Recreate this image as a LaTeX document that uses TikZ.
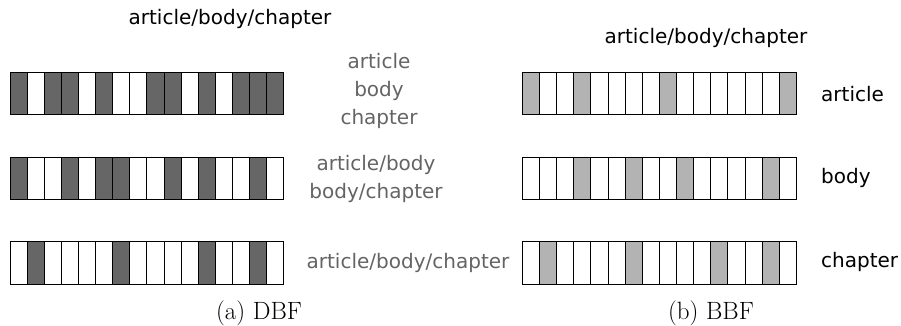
\documentclass[tikz,border=0pt]{standalone}
\usepackage{fontspec}
\setsansfont{DejaVu Sans}
\usepackage{tikz}
\definecolor{bitdark}{RGB}{102,102,102}
\definecolor{bitlight}{RGB}{179,179,179}
\definecolor{labelgray}{RGB}{100,100,100}

\begin{document}
\begin{tikzpicture}[x=1pt, y=-1pt,
    cell/.style={rectangle, draw=black, line width=0.8pt, minimum width=17.1pt,
                 minimum height=42.5pt, inner sep=0pt, anchor=north west},
    dbf0/.style={fill=white}, dbf1/.style={fill=bitdark},
    bbf0/.style={fill=white}, bbf1/.style={fill=bitlight},
    lbl/.style={font=\fontsize{20}{28}\selectfont\sffamily, inner sep=0pt, align=center},
    subcap/.style={font=\fontsize{25}{30}\selectfont, inner sep=0pt}
]
\useasboundingbox (0,0) rectangle (901,326);

% DBF: three filters
\foreach \bits [count=\r] in {{1,0,1,1,0,1,0,0,1,1,0,1,0,1,1,1},
                             {1,0,0,1,0,1,1,0,0,1,0,1,0,0,1,0},
                             {0,1,0,0,0,0,1,0,0,0,0,1,0,0,1,0}}
  \foreach \b [count=\c] in \bits
    \node[cell, dbf\b] (d\r-\c) at ({10+17.06*(\c-1)}, {72+84.5*(\r-1)}) {};

% BBF: one filter per level
\foreach \bits [count=\r] in {{1,0,0,1,0,0,0,0,1,0,0,0,0,0,0,1},
                             {0,0,0,1,0,0,1,0,0,1,0,0,0,0,1,0},
                             {0,1,0,0,0,0,1,0,0,0,0,1,0,0,1,0}}
  \foreach \b [count=\c] in \bits
    \node[cell, bbf\b] (b\r-\c) at ({522+17.12*(\c-1)}, {72+84.5*(\r-1)}) {};

% labels
\node[lbl] (dtop) at (230,19) {article/body/chapter};
\node[lbl, labelgray] (dl1) at (379,91) {article\\body\\chapter};
\node[lbl, labelgray] (dl2) at (376,179) {article/body\\body/chapter};
\node[lbl, labelgray] (dl3) at (408,263) {article/body/chapter};

\node[lbl] (btop) at (706,38) {article/body/chapter};
\node[lbl, anchor=west] (bl1) at (821,94) {article};
\node[lbl, anchor=west] (bl2) at (821,178) {body};
\node[lbl, anchor=west] (bl3) at (821,262) {chapter};

% captions
\node[subcap] (capa) at (259,313) {(a) DBF};
\node[subcap] (capb) at (711,313) {(b) BBF};
\end{tikzpicture}
\end{document}
